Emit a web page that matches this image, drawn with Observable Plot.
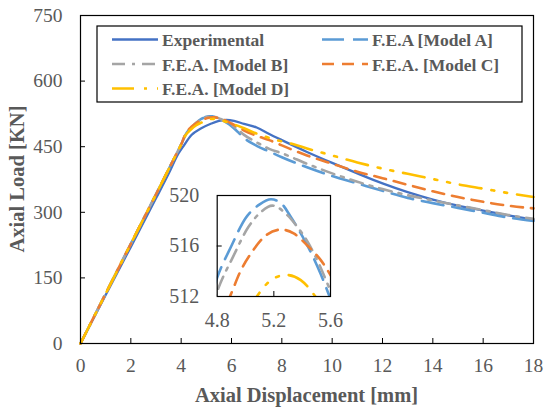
<!DOCTYPE html>
<html><head><meta charset="utf-8">
<script src="https://cdn.jsdelivr.net/npm/d3@7"></script>
<script src="https://cdn.jsdelivr.net/npm/@observablehq/plot@0.6"></script>
<style>
body{margin:0;background:#fff;}
#wrap{position:relative;width:550px;height:415px;overflow:hidden;background:#fff;}
#wrap svg{position:absolute;}
#wrap svg text, #wrap svg g{font-family:"Liberation Serif",serif !important;font-variant:normal !important;font-variant-numeric:normal !important;}
</style></head><body><div id="wrap"></div>
<script>
// ---- data ----
const seriesNames = ["Experimental", "F.E.A [Model A]", "F.E.A. [Model B]", "F.E.A. [Model C]", "F.E.A. [Model D]"];
const seriesColors = ["#4472C4", "#5B9BD5", "#A5A5A5", "#ED7D31", "#FFC000"];
const seriesDash = [null, "22,9", "13,7,3,7", "12,8", "22,10,3,10,3,10"];

const expX = [0, 1, 2, 3, 3.5, 3.9, 4.1, 4.4, 4.8, 5.2, 5.5, 5.8, 6.1, 6.5, 7, 7.5, 8, 9, 10, 11, 12, 13, 14, 15, 16, 17, 18];
const expY = [0, 111, 221, 332, 388, 435, 452, 476, 492, 503, 509, 511, 509, 502, 494, 479, 465, 438, 413, 389, 366, 346, 329, 315, 304, 293, 283];

const aX = [0, 1, 2, 3, 3.7, 4.04, 4.15, 4.4, 4.6, 4.8, 4.9, 5.0, 5.1, 5.18, 5.25, 5.32, 5.4, 5.47, 5.53, 5.6, 5.8, 6.0, 6.25, 6.5, 7, 7.5, 8, 9, 10, 11, 12, 13, 14, 15, 16, 17, 18];
const aY = [0, 114, 228, 341, 421, 460, 475, 494, 505, 513.5, 516, 518.2, 519.3, 519.7, 519.4, 518.3, 516.8, 515.3, 513.8, 511.8, 505, 497, 484, 470, 452, 439, 426, 403, 383, 366, 349, 333, 321, 310, 299, 288, 280];

const bX = [0, 1, 2, 3, 3.7, 4.04, 4.15, 4.4, 4.6, 4.81, 4.91, 5.02, 5.1, 5.19, 5.29, 5.36, 5.44, 5.53, 5.59, 5.8, 6.0, 6.25, 6.5, 7, 7.5, 8, 9, 10, 11, 12, 13, 14, 15, 16, 17, 18];
const bY = [0, 114, 228, 341, 421, 460, 474, 493, 504, 512.7, 515.1, 517.5, 518.6, 519.2, 518.5, 517.6, 516.3, 514.3, 512.7, 507, 500, 489, 477, 460, 445, 435, 411, 389, 370, 353, 339, 327, 316, 305, 294, 285];

const cX = [0, 1, 2, 3, 3.7, 4.04, 4.15, 4.4, 4.6, 4.8, 4.89, 4.96, 5.05, 5.14, 5.25, 5.34, 5.44, 5.53, 5.6, 5.8, 6.0, 6.5, 7, 7.5, 8, 8.5, 9, 10, 11, 12, 13, 14, 15, 16, 17, 18];
const cY = [0, 114, 228, 341, 421, 460, 476, 495, 504, 510, 512, 513.9, 515.6, 516.8, 517.3, 517.0, 516.0, 514.9, 513.7, 509, 503, 487, 475, 465, 453, 441, 430, 411, 393, 378, 363, 348, 335, 324, 315, 309];

const dX = [0, 1, 2, 3, 3.7, 4.04, 4.15, 4.4, 4.6, 4.8, 5.0, 5.08, 5.15, 5.21, 5.29, 5.39, 5.48, 5.6, 6.0, 6.5, 7, 7.5, 8, 8.5, 9, 10, 11, 12, 13, 14, 15, 16, 17, 18];
const dY = [0, 114, 228, 341, 421, 460, 474, 490, 499, 505, 510.5, 512, 513, 513.5, 513.7, 513.3, 512.2, 510, 503, 492, 480, 470, 462, 455, 446, 430, 414, 400, 388, 376, 364, 354, 344, 335];

const xTicks = [0, 2, 4, 6, 8, 10, 12, 14, 16, 18];
const yTicks = [0, 150, 300, 450, 600, 750];
const insetXTicks = [4.8, 5.2, 5.6];
const insetYTicks = [512, 516, 520];

const allX = [expX, aX, bX, cX, dX];
const allY = [expY, aY, bY, cY, dY];
const rows = [];
seriesNames.forEach((s, i) => allX[i].forEach((x, j) => rows.push({series: s, x, y: allY[i][j]})));

const FONT = "Liberation Serif";

function lineMarks(clip) {
  return seriesNames.map((s, i) => Plot.line(rows.filter(r => r.series === s), {
    x: "x", y: "y", stroke: seriesColors[i], strokeWidth: i === 0 ? 2.3 : 2.6,
    strokeDasharray: seriesDash[i] || undefined, curve: "monotone-x", clip
  }));
}

// ---- main chart ----
const W = 550, H = 415, mL = 80, mR = 17, mT = 15, mB = 72;
const pw = W - mL - mR, ph = H - mT - mB;
const main = Plot.plot({
  width: W, height: H, marginLeft: mL, marginRight: mR, marginTop: mT, marginBottom: mB,
  x: {domain: [0, 18]}, y: {domain: [0, 750]},
  style: {fontFamily: FONT, fontSize: "20px", color: "#595959", background: "transparent", overflow: "visible"},
  marks: [
    Plot.axisX({ticks: xTicks, tickSize: 0, tickPadding: 15, label: null, fontSize: 19.5, fontFamily: FONT, fontVariant: "normal"}),
    Plot.axisY({ticks: yTicks, tickSize: 0, tickPadding: 18, label: null, fontSize: 19.5, fontFamily: FONT, fontVariant: "normal"}),
    Plot.tickX(xTicks, {x: d => d, insetTop: ph - 5, stroke: "black", strokeWidth: 1}),
    Plot.tickY(yTicks, {y: d => d, insetRight: pw - 5, stroke: "black", strokeWidth: 1}),
    ...lineMarks(false),
    Plot.frame({stroke: "black", strokeWidth: 1.2})
  ]
});
document.getElementById("wrap").appendChild(main);
main.style.left = "0px"; main.style.top = "0px";

const svg = d3.select(main);
svg.append("text").attr("x", mL + pw / 2).attr("y", 402).attr("text-anchor", "middle")
  .attr("font-family", FONT).attr("font-size", 20.5).attr("font-weight", "bold").attr("fill", "#595959")
  .text("Axial Displacement [mm]");
svg.append("text").attr("transform", `translate(24,${mT + ph / 2}) rotate(-90)`).attr("text-anchor", "middle")
  .attr("font-family", FONT).attr("font-size", 20.5).attr("font-weight", "bold").attr("fill", "#595959")
  .text("Axial Load [KN]");

// legend
const lg = svg.append("g");
lg.append("rect").attr("x", 97).attr("y", 26).attr("width", 425).attr("height", 76)
  .attr("fill", "white").attr("stroke", "black").attr("stroke-width", 1.2);
seriesNames.forEach((s, i) => {
  const col = i % 2, row = Math.floor(i / 2);
  const x0 = col === 0 ? 112 : 322, base = 46 + row * 24.5;
  lg.append("line").attr("x1", x0).attr("x2", x0 + 46).attr("y1", base - 6.5).attr("y2", base - 6.5)
    .attr("stroke", seriesColors[i]).attr("stroke-width", i === 0 ? 2.3 : 2.6)
    .attr("stroke-dasharray", seriesDash[i]);
  lg.append("text").attr("x", x0 + 50).attr("y", base).attr("text-anchor", "start")
    .attr("font-family", FONT).attr("font-size", 17.5).attr("font-weight", "bold").attr("fill", "#595959")
    .text(s);
});

// ---- inset ----
const iL = 66.7, iT = 15, iW = 113.3, iH = 101, iR = 10, iB = 29;
const inset = Plot.plot({
  width: iL + iW + iR, height: iT + iH + iB,
  marginLeft: iL, marginRight: iR, marginTop: iT, marginBottom: iB,
  x: {domain: [4.8, 5.6]}, y: {domain: [512, 520]},
  style: {fontFamily: FONT, fontSize: "20px", color: "#595959", background: "transparent", overflow: "visible"},
  marks: [
    Plot.axisX({ticks: insetXTicks, tickSize: 0, tickPadding: 16, label: null, fontSize: 20, fontFamily: FONT, fontVariant: "normal"}),
    Plot.axisY({ticks: insetYTicks, tickSize: 0, tickPadding: 18, label: null, fontSize: 20, fontFamily: FONT, fontVariant: "normal"}),
    Plot.tickX([5.2], {x: d => d, insetTop: iH - 5, stroke: "black"}),
    Plot.tickY([516], {y: d => d, insetRight: iW - 5, stroke: "black"}),
    ...lineMarks(true),
    Plot.frame({stroke: "black", strokeWidth: 1.2})
  ]
});
document.getElementById("wrap").appendChild(inset);
inset.style.left = "150px"; inset.style.top = "180px";
</script></body></html>
